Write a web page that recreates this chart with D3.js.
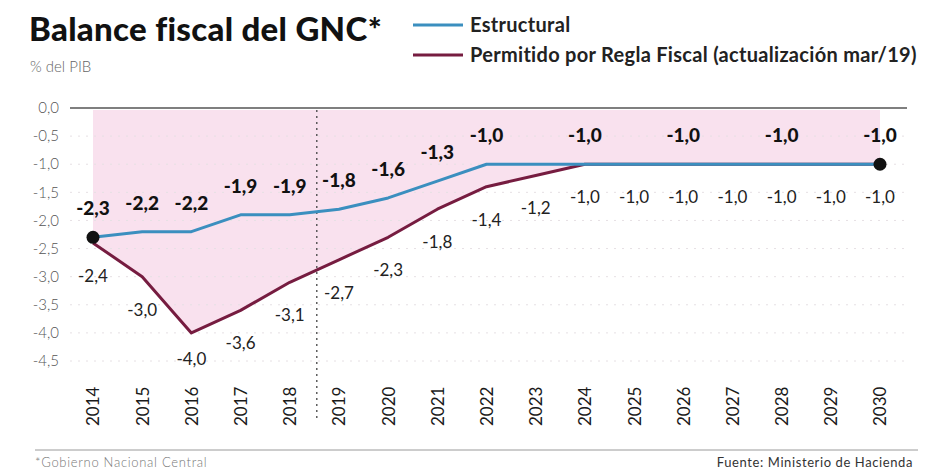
<!DOCTYPE html>
<html>
<head>
<meta charset="utf-8">
<script src="https://cdn.jsdelivr.net/npm/d3@7"></script>
<style>
  body { margin: 0; background: #fff; }
  svg { display: block; }
</style>
</head>
<body>
<div id="chart"></div>
<script>
// Balance fiscal del GNC, % del PIB
const years = [2014, 2015, 2016, 2017, 2018, 2019, 2020, 2021, 2022, 2023, 2024, 2025, 2026, 2027, 2028, 2029, 2030];
const estructural = [-2.3, -2.2, -2.2, -1.9, -1.9, -1.8, -1.6, -1.3, -1.0, -1.0, -1.0, -1.0, -1.0, -1.0, -1.0, -1.0, -1.0];
const permitido = [-2.4, -3.0, -4.0, -3.6, -3.1, -2.7, -2.3, -1.8, -1.4, -1.2, -1.0, -1.0, -1.0, -1.0, -1.0, -1.0, -1.0];
const estructuralLabelYears = [2014, 2015, 2016, 2017, 2018, 2019, 2020, 2021, 2022, 2024, 2026, 2028, 2030];
const yTicks = [0, -0.5, -1, -1.5, -2, -2.5, -3, -3.5, -4, -4.5];

const width = 925;
const height = 471;
const blue = '#3b8fbf';
const maroon = '#761c40';

const locale = d3.formatLocale({ decimal: ',', thousands: '.', grouping: [3], currency: ['', ''], minus: '-' });
const fmt = locale.format('.1f');

const svg = d3.select('#chart')
    .append('svg')
    .attr('width', width)
    .attr('height', height)
    .style('font-family', 'Lato, "Open Sans", sans-serif');

const x = d3.scalePoint().domain(years).range([93, 880]);
const y = d3.scaleLinear().domain([0, -4.5]).range([108, 361]);

const estData = years.map((yr, i) => ({ year: yr, value: estructural[i] }));
const perData = years.map((yr, i) => ({ year: yr, value: permitido[i] }));

// title + subtitle
svg.append('text')
    .attr('x', 29).attr('y', 41)
    .attr('font-size', '33px')
    .attr('font-weight', '900')
    .attr('letter-spacing', '0.3px')
    .style('fill', '#111')
    .text('Balance fiscal del GNC*');

svg.append('text')
    .attr('x', 30).attr('y', 72)
    .attr('font-size', '15px')
    .attr('font-weight', '300')
    .style('fill', '#666')
    .text('% del PIB');

// legend
const legend = [
    { label: 'Estructural', color: blue, y: 25 },
    { label: 'Permitido por Regla Fiscal (actualización mar/19)', color: maroon, y: 55 }
];
const lg = svg.append('g');
lg.selectAll('line')
    .data(legend)
    .enter()
    .append('line')
    .attr('x1', 413).attr('x2', 463)
    .attr('y1', d => d.y).attr('y2', d => d.y)
    .attr('stroke', d => d.color)
    .attr('stroke-width', 3);
lg.selectAll('text')
    .data(legend)
    .enter()
    .append('text')
    .attr('x', 470)
    .attr('y', d => d.y + 7)
    .attr('font-size', '20px')
    .attr('font-weight', '700')
    .attr('letter-spacing', '0.3px')
    .style('fill', '#222')
    .text(d => d.label);

// pink area between zero and the permitted path
svg.append('path')
    .datum(perData)
    .attr('fill', '#f9e1ee')
    .attr('d', d3.area()
        .x(d => x(d.year))
        .y0(y(0) + 2)
        .y1(d => y(d.value)));

// faint dotted gridlines
svg.append('g')
    .selectAll('line')
    .data(yTicks.slice(1))
    .enter()
    .append('line')
    .attr('x1', 70).attr('x2', 907)
    .attr('y1', d => y(d)).attr('y2', d => y(d))
    .attr('stroke', '#e6e0e4')
    .attr('stroke-width', 1)
    .attr('stroke-dasharray', '2,6');

// zero line
svg.append('line')
    .attr('x1', 70).attr('x2', 907)
    .attr('y1', y(0)).attr('y2', y(0))
    .attr('stroke', '#555')
    .attr('stroke-width', 1.5);

// y tick labels
svg.append('g')
    .selectAll('text')
    .data(yTicks)
    .enter()
    .append('text')
    .attr('x', 59)
    .attr('y', d => y(d))
    .attr('dy', '0.35em')
    .attr('text-anchor', 'end')
    .attr('font-size', '15px')
    .attr('font-weight', '300')
    .style('fill', '#555')
    .text(d => fmt(d));

// projection divider between 2018 and 2019
const step = x.step();
const divX = x(2018) + step * 0.55;
svg.append('line')
    .attr('x1', divX).attr('x2', divX)
    .attr('y1', y(0) + 2).attr('y2', 420)
    .attr('stroke', '#444')
    .attr('stroke-width', 1.3)
    .attr('stroke-dasharray', '2,4');

// lines
const line = d3.line().x(d => x(d.year)).y(d => y(d.value));

svg.append('path')
    .datum(perData)
    .attr('fill', 'none')
    .attr('stroke', maroon)
    .attr('stroke-width', 3)
    .attr('stroke-linejoin', 'round')
    .attr('d', line);

svg.append('path')
    .datum(estData)
    .attr('fill', 'none')
    .attr('stroke', blue)
    .attr('stroke-width', 3)
    .attr('stroke-linejoin', 'round')
    .attr('d', line);

// end dots
svg.append('g')
    .selectAll('circle')
    .data([estData[0], estData[estData.length - 1]])
    .enter()
    .append('circle')
    .attr('cx', d => x(d.year))
    .attr('cy', d => y(d.value))
    .attr('r', 6.5)
    .attr('fill', '#111');

// value labels
svg.append('g')
    .selectAll('text')
    .data(estData.filter(d => estructuralLabelYears.includes(d.year)))
    .enter()
    .append('text')
    .attr('x', d => x(d.year))
    .attr('y', d => y(d.value) - 22)
    .attr('text-anchor', 'middle')
    .attr('font-size', '19px')
    .attr('font-weight', '900')
    .style('fill', '#111')
    .text(d => fmt(d.value));

svg.append('g')
    .selectAll('text')
    .data(perData)
    .enter()
    .append('text')
    .attr('x', d => x(d.year))
    .attr('y', d => Math.min(y(d.value) + 39, 365))
    .attr('text-anchor', 'middle')
    .attr('font-size', '17px')
    .attr('font-weight', '400')
    .style('fill', '#222')
    .text(d => fmt(d.value));

// x axis with rotated years
const xAxis = svg.append('g')
    .attr('transform', 'translate(0,426)')
    .call(d3.axisBottom(x).tickSize(0));
xAxis.select('.domain').remove();
xAxis.selectAll('text')
    .attr('x', 0)
    .attr('y', 0)
    .attr('dy', '0.35em')
    .attr('transform', 'rotate(-90)')
    .style('text-anchor', 'start')
    .style('font-family', 'Lato, sans-serif')
    .style('font-size', '17px')
    .style('font-weight', '400')
    .style('fill', '#1a1a1a');

// footer
svg.append('line')
    .attr('x1', 35).attr('x2', 918)
    .attr('y1', 450).attr('y2', 450)
    .attr('stroke', '#9a9a9a')
    .attr('stroke-width', 1);

svg.append('text')
    .attr('x', 35).attr('y', 467)
    .attr('font-size', '13px')
    .attr('font-weight', '300')
    .attr('letter-spacing', '0.7px')
    .style('fill', '#777')
    .text('*Gobierno Nacional Central');

svg.append('text')
    .attr('x', 913).attr('y', 467)
    .attr('text-anchor', 'end')
    .attr('font-size', '13px')
    .attr('letter-spacing', '0.6px')
    .style('fill', '#333')
    .text('Fuente: Ministerio de Hacienda');
</script>
</body>
</html>
